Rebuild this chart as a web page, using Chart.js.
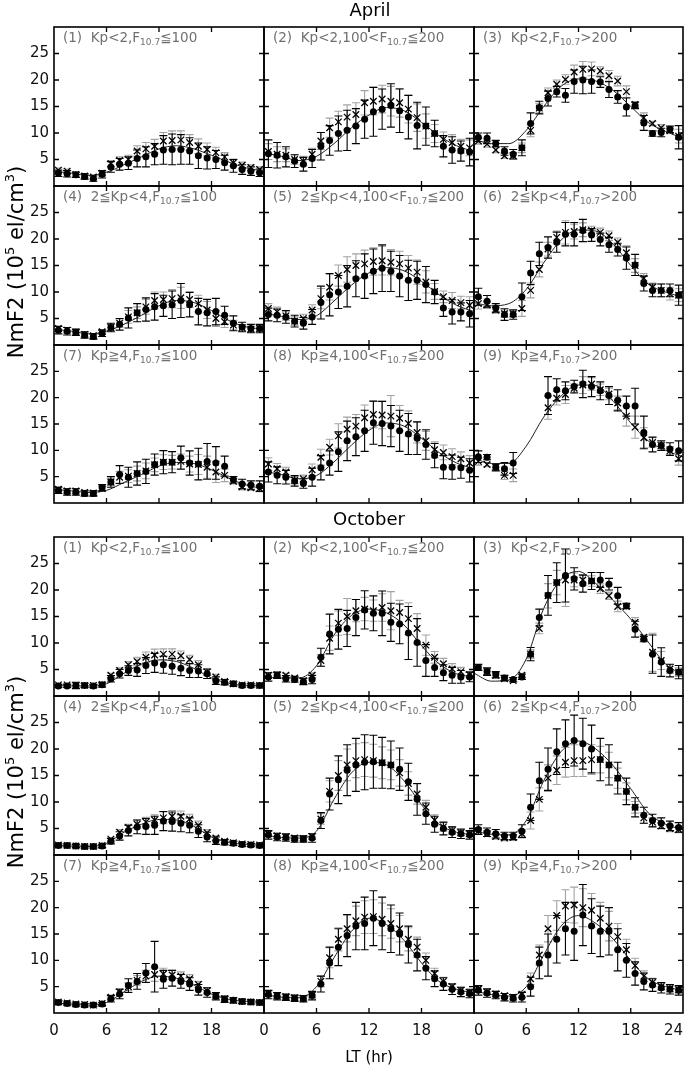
<!DOCTYPE html>
<html><head><meta charset="utf-8">
<script src="https://cdn.jsdelivr.net/npm/chart.js@4.4.1/dist/chart.umd.min.js"></script>
<style>
html,body{margin:0;padding:0;background:#fff;}
body{width:685px;height:1068px;overflow:hidden;position:relative;font-family:"DejaVu Sans",sans-serif;}
.pane{position:absolute;}
.lbl{position:absolute;font-size:13.5px;color:#707070;white-space:nowrap;line-height:14px;z-index:5;}
.lbl sub{font-size:9px;vertical-align:baseline;position:relative;top:3px;}
.title{position:absolute;font-size:18px;color:#000;transform:translateX(-50%);white-space:nowrap;line-height:20px;z-index:5;}
.ylab{position:absolute;font-size:21px;white-space:nowrap;line-height:22px;transform:translate(-50%,-50%) rotate(-90deg);z-index:5;}
.ylab sup{font-size:13px;vertical-align:baseline;position:relative;top:-9px;}
.xlab{position:absolute;font-size:15px;transform:translateX(-50%);white-space:nowrap;line-height:16px;z-index:5;}
</style></head><body>
<script>
// ---------- data ----------
const HOURS = [0.5,1.5,2.5,3.5,4.5,5.5,6.5,7.5,8.5,9.5,10.5,11.5,12.5,13.5,14.5,15.5,16.5,17.5,18.5,19.5,20.5,21.5,22.5,23.5];
const LINE_HOURS = [0,2,4,6,8,10,12,14,16,18,20,22,24];
const X_TICKS = [6,12,18];
const Y_TICKS = [5,10,15,20,25];
const MONTHS = ['April','October'];
const CONDITIONS = [
 'Kp&lt;2,F<sub>10.7</sub>≦100',
 'Kp&lt;2,100&lt;F<sub>10.7</sub>≦200',
 'Kp&lt;2,F<sub>10.7</sub>&gt;200',
 '2≦Kp&lt;4,F<sub>10.7</sub>≦100',
 '2≦Kp&lt;4,100&lt;F<sub>10.7</sub>≦200',
 '2≦Kp&lt;4,F<sub>10.7</sub>&gt;200',
 'Kp≧4,F<sub>10.7</sub>≦100',
 'Kp≧4,100&lt;F<sub>10.7</sub>≦200',
 'Kp≧4,F<sub>10.7</sub>&gt;200'
];

// April
const APR1_DOTS = [2.4,2.3,2.1,1.8,1.4,2.2,3.6,4.1,4.3,5.2,5.5,6.0,6.8,6.9,6.9,6.6,5.7,5.3,5.0,4.4,3.8,3.1,2.8,2.5];
const APR1_DERR = [0.6,0.6,0.5,0.5,0.5,0.7,1.0,1.1,1.2,1.6,1.9,2.0,2.7,2.9,2.8,2.5,2.4,2.1,1.7,1.4,1.2,0.9,0.8,0.7];
const APR1_CROSS = [3.0,2.8,2.2,1.9,1.7,2.4,4.2,4.8,5.0,6.6,7.0,7.5,8.5,8.6,8.7,8.2,7.5,6.9,6.3,5.5,4.4,3.9,3.5,3.1];
const APR1_CERR = [0.4,0.4,0.4,0.3,0.3,0.4,0.6,0.7,0.8,1.0,1.2,1.3,1.6,1.8,1.7,1.5,1.4,1.2,1.0,0.8,0.7,0.6,0.5,0.5];
const APR1_LINE = [2.8,2.4,2.0,2.6,4.0,5.5,7.0,7.6,7.0,5.8,4.5,3.4,2.8];

const APR2_DOTS = [6.1,5.8,5.5,4.7,4.1,5.2,7.5,8.6,9.9,10.5,11.3,12.6,14.0,14.5,15.2,14.2,13.0,11.4,11.3,9.9,7.5,6.8,6.6,6.4];
const APR2_DERR = [2.6,2.4,1.9,1.2,1.3,1.7,2.6,2.8,3.3,3.8,3.3,3.6,4.6,3.8,4.1,4.1,4.1,4.4,3.6,2.5,2.0,2.5,1.9,2.6];
const APR2_CROSS = [6.5,6.0,5.8,5.0,4.7,6.0,8.5,11.0,12.1,13.0,13.5,15.7,16.0,16.4,16.0,15.7,14.5,12.9,11.3,9.9,8.8,8.2,7.5,7.2];
const APR2_CERR = [1.5,1.4,1.2,0.9,0.9,1.1,1.6,1.8,2.0,2.3,2.2,2.3,2.6,2.6,2.8,2.7,2.6,2.6,2.3,1.7,1.4,1.5,1.3,1.5];
const APR2_LINE = [6.3,5.6,4.8,5.6,8.0,11.0,13.4,14.8,14.2,12.0,9.5,7.6,6.5];

const APR3_DOTS = [9.2,9.0,8.0,6.6,6.0,7.2,11.8,14.8,16.5,17.8,17.1,19.7,20.0,19.7,19.6,18.2,16.8,14.9,15.2,11.9,9.9,10.1,10.7,9.2];
const APR3_DERR = [0.8,1.0,0.6,0.8,0.9,1.5,2.0,1.2,1.4,1.0,1.3,2.2,2.6,2.2,1.0,1.5,1.2,1.7,0.6,1.4,0.5,0.8,0.6,2.2];
const APR3_CROSS = [8.5,7.9,6.8,5.7,5.7,7.2,10.5,14.7,17.6,19.2,20.1,21.5,22.0,22.1,21.7,20.8,19.8,17.8,15.4,12.9,11.8,11.0,10.4,9.4];
const APR3_CERR = [0.6,0.6,0.5,0.5,0.6,0.9,1.2,0.9,0.9,0.8,0.9,1.3,1.5,1.3,0.8,1.0,0.9,1.1,0.5,0.9,0.4,0.6,0.5,1.3];
const APR3_LINE = [8.8,8.0,8.0,10.5,15.0,18.8,20.2,19.8,18.0,15.0,12.0,10.3,9.0];

const APR4_DOTS = [2.8,2.6,2.4,1.9,1.6,2.2,3.3,3.9,5.1,6.1,6.7,7.2,7.4,7.6,8.4,7.6,6.3,6.1,6.3,5.6,4.1,3.4,3.1,3.1];
const APR4_DERR = [0.7,0.7,0.6,0.6,0.5,0.6,0.8,1.1,1.9,1.7,2.2,2.5,2.0,2.6,3.2,2.3,2.5,2.5,2.5,1.7,1.4,0.9,0.8,0.8];
const APR4_CROSS = [3.1,2.8,2.4,2.0,1.75,2.5,3.3,4.1,5.3,6.1,7.2,8.4,8.6,8.75,8.9,8.6,7.8,6.6,5.0,4.4,3.75,3.25,3.0,3.1];
const APR4_CERR = [0.5,0.5,0.4,0.4,0.4,0.4,0.6,0.8,1.2,1.1,1.4,1.6,1.4,1.7,2.0,1.5,1.6,1.6,1.5,1.1,0.9,0.6,0.5,0.5];
const APR4_LINE = [3.0,2.6,2.1,2.6,3.9,5.6,7.4,8.4,8.0,6.5,4.6,3.4,3.0];

const APR5_DOTS = [5.75,5.6,5.3,4.5,4.1,5.3,8.0,9.5,10.0,11.1,12.5,13.0,13.9,14.5,13.9,13.0,12.2,12.2,11.4,10.0,7.0,6.25,6.25,5.9];
const APR5_DERR = [1.2,1.2,1.2,1.1,1.1,1.4,3.1,4.0,3.1,3.9,3.4,4.2,4.2,4.4,3.8,3.9,3.8,3.6,3.4,2.2,1.6,2.3,1.7,2.5];
const APR5_CROSS = [6.9,6.25,5.5,4.5,5.0,6.6,8.75,10.9,13.1,14.25,15.0,15.3,15.75,15.9,15.6,15.3,14.5,13.75,11.9,10.1,9.1,8.4,8.0,7.5];
const APR5_CERR = [0.9,0.9,0.8,0.8,0.8,1.0,1.9,2.4,2.0,2.4,2.2,2.6,2.6,2.7,2.4,2.4,2.4,2.3,2.1,1.5,1.1,1.5,1.2,1.6];
const APR5_LINE = [6.0,5.4,4.8,5.5,8.3,11.3,13.6,14.6,14.0,12.0,9.5,7.5,6.3];

const APR6_DOTS = [9.1,8.25,7.0,5.75,5.75,9.1,13.6,17.2,18.4,19.4,20.9,20.9,21.6,20.75,19.9,18.9,18.0,16.4,15.1,11.6,10.3,10.3,10.3,9.4];
const APR6_DERR = [1.6,1.1,0.8,1.1,0.9,2.6,2.2,2.2,2.0,1.9,2.2,2.2,2.1,1.2,1.2,1.4,1.2,2.1,2.0,1.4,1.2,1.2,1.2,1.9];
const APR6_CROSS = [7.8,7.6,6.6,5.9,5.9,6.9,10.3,14.25,18.1,20.3,21.25,21.4,21.75,21.6,21.25,20.6,19.4,17.4,15.0,12.6,10.9,10.3,9.7,9.4];
const APR6_CERR = [1.0,0.7,0.6,0.7,0.6,1.5,1.4,1.4,1.3,1.2,2.2,1.4,1.3,0.8,0.8,0.9,0.8,1.3,1.3,0.9,0.8,1.2,1.2,1.2];
const APR6_LINE = [8.0,7.4,7.8,10.5,15.5,19.8,21.7,21.5,19.0,15.0,11.5,10.0,9.0];

const APR7_DOTS = [2.4,2.1,2.1,1.8,1.8,2.9,4.0,5.4,4.9,5.6,6.0,7.3,7.75,7.75,8.6,7.6,7.4,7.9,7.6,7.0,4.4,3.6,3.4,3.2];
const APR7_DERR = [0.6,0.6,0.6,0.5,0.5,0.6,1.0,1.7,1.9,2.2,2.3,2.0,2.2,2.0,2.2,2.3,3.0,3.4,3.1,1.9,0.6,0.9,0.8,1.0];
const APR7_CROSS = [2.6,2.3,2.3,2.0,1.9,2.75,4.0,4.9,5.1,5.6,6.1,7.25,7.75,7.75,7.9,7.4,7.3,6.8,5.9,5.25,4.1,3.1,2.9,2.75];
const APR7_CERR = [0.4,0.4,0.4,0.4,0.4,0.4,0.7,1.1,1.2,1.4,1.5,1.3,1.4,1.3,1.4,1.5,1.9,2.1,2.0,1.2,0.5,0.6,0.5,0.6];
const APR7_LINE = [2.6,2.3,2.0,2.4,3.9,5.4,7.0,7.7,7.5,6.3,4.7,3.4,2.7];

const APR8_DOTS = [5.9,5.25,4.9,4.2,3.7,4.9,6.7,7.6,9.75,11.8,12.6,13.7,15.25,15.1,14.6,13.7,13.1,12.3,11.1,9.0,6.8,6.8,6.7,6.2];
const APR8_DERR = [1.9,1.6,1.3,1.0,0.9,1.7,2.3,2.3,3.75,3.75,3.6,3.9,4.1,4.2,3.9,3.9,3.9,3.1,2.8,2.3,2.2,2.3,2.0,2.2];
const APR8_CROSS = [7.4,6.5,5.9,4.3,4.6,6.3,8.7,10.6,12.75,14.0,14.6,16.2,16.8,16.7,16.5,16.1,15.1,13.4,11.8,10.1,9.6,8.8,8.4,7.6];
const APR8_CERR = [1.2,1.0,0.9,0.7,0.7,1.1,1.5,1.5,2.3,2.3,2.2,2.4,2.5,2.6,3.9,2.4,2.4,2.0,1.8,1.5,1.4,1.5,1.3,1.4];
const APR8_LINE = [6.0,5.4,4.6,5.2,7.8,11.0,13.8,15.2,14.6,12.3,9.6,7.6,6.5];

const APR9_DOTS = [8.8,8.7,6.8,6.5,7.6,null,null,null,20.4,21.5,21.3,22.1,22.6,22.1,21.3,20.4,19.5,18.4,18.4,13.4,11.1,10.9,10.25,9.9];
const APR9_DERR = [1.1,0.5,0.7,1.2,2.0,0,0,0,3.6,2.1,1.7,1.2,2.6,1.9,1.7,1.7,2.0,1.9,3.4,3.1,1.4,0.9,1.2,1.9];
const APR9_CROSS = [7.9,7.3,6.8,5.25,5.25,null,null,null,18.1,19.9,20.6,21.8,22.4,22.6,21.5,20.7,19.0,16.5,14.4,12.4,11.5,10.9,9.9,8.4];
const APR9_CERR = [0.7,0.4,0.5,0.8,1.2,0,0,0,2.2,1.3,1.7,0.8,1.6,1.2,1.1,1.1,1.3,1.9,2.1,1.9,0.9,0.6,0.8,1.2];
const APR9_LINE = [8.5,7.5,7.5,10.8,16.3,20.3,22.4,22.3,19.3,15.2,11.8,10.0,8.8];

// October
const OCT1_DOTS = [1.9,1.9,2.0,2.0,1.9,2.1,3.25,4.2,4.8,4.9,5.75,6.25,5.9,5.6,5.25,4.8,4.7,4.2,2.9,2.6,2.3,2.0,2.0,2.0];
const OCT1_DERR = [0.3,0.3,0.6,0.4,0.3,0.4,0.6,0.8,0.9,1.2,1.5,1.8,1.6,1.5,1.4,1.3,1.2,0.9,0.7,0.5,0.4,0.3,0.3,0.3];
const OCT1_CROSS = [2.1,2.1,2.0,2.0,2.0,2.2,3.9,4.8,5.9,6.5,7.3,7.75,7.9,7.9,7.6,6.9,5.9,4.5,3.6,2.75,2.3,2.1,2.1,2.0];
const OCT1_CERR = [0.2,0.2,0.4,0.3,0.2,0.3,0.4,0.5,0.6,0.8,1.0,1.1,1.0,1.0,0.9,0.8,0.8,0.6,0.5,0.3,0.3,0.2,0.2,0.2];
const OCT1_LINE = [2.0,1.9,1.9,2.3,4.3,6.0,6.8,6.5,5.2,3.4,2.4,2.0,2.0];

const OCT2_DOTS = [3.6,3.9,3.25,3.1,2.75,3.1,7.3,11.7,12.6,12.75,14.8,16.25,15.6,15.6,13.9,13.6,11.9,10.1,6.7,5.4,4.4,3.9,3.6,3.6];
const OCT2_DERR = [0.8,0.6,0.6,0.5,0.6,0.8,1.7,3.75,3.75,3.4,3.4,3.6,3.3,4.2,3.6,3.75,5.0,4.5,3.0,1.7,1.5,1.5,1.2,0.9];
const OCT2_CROSS = [3.9,4.0,3.9,3.4,2.9,3.9,6.7,10.9,13.75,15.0,16.1,16.4,16.1,16.7,16.1,15.75,14.6,12.75,9.6,7.3,6.1,5.1,4.6,4.0];
const OCT2_CERR = [0.5,0.4,0.4,0.4,0.4,0.5,1.1,2.3,2.3,3.4,2.1,2.2,2.0,2.6,3.6,2.3,3.0,2.8,1.9,1.1,1.0,1.0,0.8,0.6];
const OCT2_LINE = [3.6,3.4,3.4,5.7,11.5,15.2,16.4,15.7,13.4,9.5,6.1,4.2,3.6];

const OCT3_DOTS = [5.4,4.6,4.0,3.4,3.1,3.6,7.9,14.8,19.0,21.4,22.75,22.1,21.2,21.7,21.9,21.1,18.9,17.0,12.6,10.75,7.9,6.4,4.8,4.5];
const OCT3_DERR = [0.6,0.7,0.6,0.5,0.4,0.5,1.25,1.6,3.75,3.75,5.0,2.1,1.6,1.6,1.4,1.1,1.6,0.5,1.5,0.5,3.6,2.7,1.2,1.25];
const OCT3_CROSS = [5.4,4.6,3.9,3.25,2.9,3.9,7.9,12.75,18.9,21.4,21.9,21.9,21.9,21.7,20.25,18.9,16.9,16.9,13.9,11.1,8.25,6.7,5.1,4.5];
const OCT3_CERR = [0.4,0.5,0.4,0.3,0.3,0.4,0.8,1.0,2.3,2.3,5.0,1.3,1.0,1.0,0.9,0.7,1.0,0.4,0.9,0.4,3.6,1.7,0.8,0.8];
const OCT3_LINE = [4.3,2.8,3.0,7.0,16.5,22.0,23.5,21.2,18.0,14.5,10.2,6.0,4.0];

const OCT4_DOTS = [1.8,1.8,1.7,1.6,1.6,1.7,2.6,3.6,4.6,5.3,5.4,5.6,6.4,6.3,6.0,5.6,4.5,3.4,2.7,2.4,2.2,2.0,1.9,1.8];
const OCT4_DERR = [0.3,0.3,0.3,0.3,0.3,0.3,0.5,0.8,1.0,1.3,1.5,1.7,1.8,1.8,1.6,1.4,1.2,0.9,0.7,0.5,0.4,0.4,0.3,0.3];
const OCT4_CROSS = [1.9,1.8,1.7,1.6,1.6,1.8,3.0,4.3,5.2,5.8,6.2,6.6,7.0,7.3,7.3,6.8,5.6,4.2,3.2,2.6,2.3,2.1,2.0,1.9];
const OCT4_CERR = [0.2,0.2,0.2,0.2,0.2,0.2,0.3,0.5,0.6,0.8,0.9,1.0,1.1,1.1,1.0,0.9,0.8,0.6,0.4,0.3,0.3,0.3,0.2,0.2];
const OCT4_LINE = [1.8,1.7,1.6,2.2,4.3,5.8,6.7,6.6,5.4,3.4,2.4,2.0,1.8];

const OCT5_DOTS = [3.8,3.4,3.3,3.0,3.0,3.2,6.5,11.5,14.2,16.0,17.0,17.5,17.6,17.4,17.0,16.2,13.8,10.5,7.8,5.8,5.0,4.3,4.0,3.8];
const OCT5_DERR = [0.8,0.7,0.7,0.6,0.6,0.8,1.5,3.0,4.5,4.8,5.0,5.2,5.0,4.8,4.5,4.0,3.5,3.0,2.0,1.5,1.2,1.0,0.9,0.8];
const OCT5_CROSS = [4.0,3.6,3.4,3.2,3.1,3.5,6.8,12.0,15.0,17.0,17.8,18.0,17.8,17.4,17.0,15.5,13.5,11.5,9.0,6.6,5.3,4.6,4.2,4.0];
const OCT5_CERR = [0.5,0.5,0.5,0.4,0.4,0.5,1.0,2.0,2.8,3.0,3.2,3.2,3.1,3.0,2.8,2.5,2.2,1.9,1.3,1.0,0.8,0.7,0.6,0.5];
const OCT5_LINE = [3.8,3.3,3.2,4.5,10.5,15.5,17.5,17.0,14.0,9.5,5.8,4.3,3.8];

const OCT6_DOTS = [4.8,4.3,4.0,3.6,3.6,4.5,9.0,14.0,16.2,19.5,21.0,21.6,21.0,20.0,18.0,17.0,14.5,12.0,9.0,7.5,6.5,6.0,5.5,5.2];
const OCT6_DERR = [0.9,0.8,0.8,0.7,0.7,1.2,2.5,3.5,4.0,4.3,4.5,4.8,4.8,4.5,4.0,3.8,3.0,2.5,1.8,1.5,1.2,1.0,0.9,0.9];
const OCT6_CROSS = [4.5,4.0,3.5,3.2,3.3,4.0,6.5,10.5,14.5,16.0,17.5,17.8,17.8,18.0,18.0,17.0,14.5,12.0,9.0,7.0,6.2,5.5,5.0,4.8];
const OCT6_CERR = [0.6,0.5,0.5,0.5,0.5,0.8,1.6,2.2,2.5,2.7,2.8,3.0,3.0,2.8,2.5,2.4,1.9,1.6,1.1,1.0,0.8,0.6,0.6,0.6];
const OCT6_LINE = [4.6,3.9,3.8,6.5,14.0,19.5,21.5,20.0,16.8,12.5,8.0,5.8,4.8];

const OCT7_DOTS = [2.0,1.8,1.6,1.5,1.5,1.7,2.7,3.6,5.2,6.0,7.6,8.8,6.4,6.6,6.0,5.5,4.4,3.9,3.2,2.6,2.4,2.2,2.1,2.0];
const OCT7_DERR = [0.3,0.3,0.3,0.3,0.3,0.3,0.6,0.9,1.3,1.5,1.8,4.8,1.7,1.5,1.3,1.2,1.0,0.9,0.7,0.6,0.5,0.4,0.4,0.3];
const OCT7_CROSS = [2.1,1.9,1.7,1.6,1.5,1.8,3.0,4.0,5.0,6.2,7.0,7.3,7.4,7.2,7.0,6.5,5.4,4.2,3.3,2.7,2.4,2.2,2.1,2.0];
const OCT7_CERR = [0.2,0.2,0.2,0.2,0.2,0.2,0.4,0.6,0.8,0.9,1.1,1.3,1.1,0.9,0.8,0.8,0.6,0.6,0.4,0.4,0.3,0.3,0.3,0.2];
const OCT7_LINE = [1.9,1.7,1.5,2.0,4.0,6.0,7.0,6.6,5.3,3.6,2.6,2.2,2.0];

const OCT8_DOTS = [3.5,3.2,3.0,2.8,2.7,3.3,5.5,9.5,12.5,14.7,16.5,17.0,18.0,17.0,16.0,15.0,13.0,11.0,8.5,6.5,5.5,4.5,4.0,3.7];
const OCT8_DERR = [0.8,0.7,0.6,0.6,0.6,0.8,1.5,3.0,3.5,4.0,4.5,5.0,5.2,5.0,4.5,4.0,3.5,3.0,2.2,1.5,1.2,1.0,0.9,0.8];
const OCT8_CROSS = [3.7,3.3,3.1,2.9,2.8,3.4,6.0,10.5,14.0,16.0,17.5,18.2,18.3,17.8,17.0,16.0,14.0,12.5,10.0,7.5,6.0,5.0,4.3,3.9];
const OCT8_CERR = [0.5,0.4,0.4,0.4,0.4,0.5,1.0,1.9,2.2,2.5,2.8,3.1,3.2,3.1,2.8,2.5,2.2,1.9,1.4,1.0,0.8,0.6,0.6,0.5];
const OCT8_LINE = [3.6,3.0,2.9,5.0,10.5,15.5,18.0,16.8,13.8,9.5,6.0,4.5,3.8];

const OCT9_DOTS = [4.3,3.8,3.4,3.0,2.8,3.0,5.0,9.5,11.0,14.0,16.0,15.5,18.6,16.5,15.5,15.5,12.0,10.0,7.5,6.0,5.3,4.8,4.5,4.3];
const OCT9_DERR = [0.9,0.8,0.7,0.7,0.7,0.9,1.8,3.0,4.0,4.5,5.0,5.5,5.8,5.2,4.8,4.5,4.0,3.2,2.2,1.6,1.2,1.0,0.9,0.9];
const OCT9_CROSS = [4.5,4.0,3.6,3.3,3.0,3.5,6.5,11.0,16.0,18.5,20.3,20.5,20.0,19.5,18.0,16.5,14.5,12.0,9.0,7.0,5.8,5.0,4.6,4.4];
const OCT9_CERR = [0.6,0.5,0.5,0.4,0.4,0.6,1.1,1.9,2.5,2.8,3.1,3.4,3.6,3.2,3.0,2.8,2.5,2.0,1.4,1.0,0.8,0.6,0.6,0.6];
const OCT9_LINE = [4.2,3.5,3.2,5.0,11.0,16.5,18.5,17.0,14.0,10.0,6.5,5.0,4.3];

const SERIES = [
 [APR1_DOTS,APR1_DERR,APR1_CROSS,APR1_CERR,APR1_LINE],
 [APR2_DOTS,APR2_DERR,APR2_CROSS,APR2_CERR,APR2_LINE],
 [APR3_DOTS,APR3_DERR,APR3_CROSS,APR3_CERR,APR3_LINE],
 [APR4_DOTS,APR4_DERR,APR4_CROSS,APR4_CERR,APR4_LINE],
 [APR5_DOTS,APR5_DERR,APR5_CROSS,APR5_CERR,APR5_LINE],
 [APR6_DOTS,APR6_DERR,APR6_CROSS,APR6_CERR,APR6_LINE],
 [APR7_DOTS,APR7_DERR,APR7_CROSS,APR7_CERR,APR7_LINE],
 [APR8_DOTS,APR8_DERR,APR8_CROSS,APR8_CERR,APR8_LINE],
 [APR9_DOTS,APR9_DERR,APR9_CROSS,APR9_CERR,APR9_LINE],
 [OCT1_DOTS,OCT1_DERR,OCT1_CROSS,OCT1_CERR,OCT1_LINE],
 [OCT2_DOTS,OCT2_DERR,OCT2_CROSS,OCT2_CERR,OCT2_LINE],
 [OCT3_DOTS,OCT3_DERR,OCT3_CROSS,OCT3_CERR,OCT3_LINE],
 [OCT4_DOTS,OCT4_DERR,OCT4_CROSS,OCT4_CERR,OCT4_LINE],
 [OCT5_DOTS,OCT5_DERR,OCT5_CROSS,OCT5_CERR,OCT5_LINE],
 [OCT6_DOTS,OCT6_DERR,OCT6_CROSS,OCT6_CERR,OCT6_LINE],
 [OCT7_DOTS,OCT7_DERR,OCT7_CROSS,OCT7_CERR,OCT7_LINE],
 [OCT8_DOTS,OCT8_DERR,OCT8_CROSS,OCT8_CERR,OCT8_LINE],
 [OCT9_DOTS,OCT9_DERR,OCT9_CROSS,OCT9_CERR,OCT9_LINE]
];

// ---------- layout ----------
const COL_L = [54, 264, 474];
const COL_W = [210, 210, 209];
const GROUP_T = [27, 537];
const ROW_OFF = [0, 159, 318];
const ROW_H = [159, 159, 158];
const FONT = '"DejaVu Sans", sans-serif';

const errorBars = {
  id: 'errorBars',
  beforeDatasetsDraw(chart) {
    const {ctx, scales: {x, y}} = chart;
    ctx.save();
    chart.data.datasets.forEach(ds => {
      if (!ds.errs) return;
      ctx.strokeStyle = ds.errColor;
      ctx.lineWidth = 1.1;
      ctx.beginPath();
      ds.data.forEach((pt, i) => {
        const e = ds.errs[i];
        if (pt.y == null || !e) return;
        const px = x.getPixelForValue(pt.x);
        const y1 = y.getPixelForValue(pt.y - e);
        const y2 = y.getPixelForValue(pt.y + e);
        ctx.moveTo(px, y1); ctx.lineTo(px, y2);
        ctx.moveTo(px - 4, y1); ctx.lineTo(px + 4, y1);
        ctx.moveTo(px - 4, y2); ctx.lineTo(px + 4, y2);
      });
      ctx.stroke();
    });
    ctx.restore();
  }
};

const frame = {
  id: 'frame',
  afterDraw(chart) {
    const {ctx, chartArea: a, scales: {x, y}} = chart;
    ctx.save();
    ctx.strokeStyle = '#000';
    ctx.lineWidth = 1.6;
    ctx.strokeRect(a.left, a.top, a.right - a.left, a.bottom - a.top);
    ctx.lineWidth = 1.3;
    ctx.beginPath();
    X_TICKS.forEach(v => {
      const px = x.getPixelForValue(v);
      ctx.moveTo(px, a.top); ctx.lineTo(px, a.top + 5);
      ctx.moveTo(px, a.bottom); ctx.lineTo(px, a.bottom - 5);
    });
    Y_TICKS.forEach(v => {
      const py = y.getPixelForValue(v);
      ctx.moveTo(a.left, py); ctx.lineTo(a.left + 5, py);
      ctx.moveTo(a.right, py); ctx.lineTo(a.right - 5, py);
    });
    ctx.stroke();
    ctx.restore();
  }
};

function addDiv(cls, html, style) {
  const d = document.createElement('div');
  d.className = cls; d.innerHTML = html;
  Object.assign(d.style, style);
  document.body.appendChild(d);
  return d;
}

SERIES.forEach((s, k) => {
  const group = Math.floor(k / 9), idx = k % 9, row = Math.floor(idx / 3), col = idx % 3;
  const [dots, derr, cross, cerr, line] = s;
  const L = COL_L[col], W = COL_W[col], T = GROUP_T[group] + ROW_OFF[row], H = ROW_H[row];
  const isLeft = col === 0, isBottom = group === 1 && row === 2;
  const YW = 46, XH = 34, P = 20;
  const padL = isLeft ? YW : P, padB = isBottom ? XH : P;
  const wrap = document.createElement('div');
  wrap.className = 'pane';
  Object.assign(wrap.style, {left: (L - padL) + 'px', top: (T - P) + 'px', width: (W + padL + P) + 'px', height: (H + P + padB) + 'px'});
  const cv = document.createElement('canvas');
  wrap.appendChild(cv);
  document.body.appendChild(wrap);

  new Chart(cv, {
    type: 'scatter',
    data: {
      datasets: [
        {data: HOURS.map((h, i) => ({x: h, y: cross[i]})), errs: cerr, errColor: '#a3a3a3',
         pointStyle: 'crossRot', pointRadius: 4.6, borderColor: '#000', backgroundColor: '#000', borderWidth: 1.3, showLine: false},
        {data: HOURS.map((h, i) => ({x: h, y: dots[i]})), errs: derr, errColor: '#000',
         pointStyle: 'circle', pointRadius: 3.5, borderColor: '#000', backgroundColor: '#000', borderWidth: 0, showLine: false},
        {data: LINE_HOURS.map((h, i) => ({x: h, y: line[i]})), showLine: true, pointRadius: 0,
         borderColor: '#222', borderWidth: 1, cubicInterpolationMode: 'monotone'}
      ]
    },
    options: {
      responsive: true, maintainAspectRatio: false, animation: false,
      layout: {padding: {left: isLeft ? 0 : P, right: P, top: P, bottom: isBottom ? 0 : P}},
      plugins: {legend: {display: false}, tooltip: {enabled: false}},
      scales: {
        x: {type: 'linear', min: 0, max: 24, display: isBottom,
            afterFit: sc => { if (isBottom) sc.height = XH; },
            grid: {display: false, drawTicks: false}, border: {display: false},
            ticks: {stepSize: 6, padding: 9, autoSkip: false, maxRotation: 0, color: '#111',
                    align: col === 2 ? 'inner' : 'center',
                    font: {family: FONT, size: 15},
                    callback: v => (v === 24 && col < 2) ? '' : String(v)}},
        y: {type: 'linear', min: 0, max: 30, display: isLeft,
            afterFit: sc => { if (isLeft) sc.width = YW; },
            grid: {display: false, drawTicks: false}, border: {display: false},
            ticks: {stepSize: 5, padding: 5, autoSkip: false, color: '#111', font: {family: FONT, size: 15},
                    callback: v => (v === 0 || v === 30) ? '' : String(v)}}
      }
    },
    plugins: [errorBars, frame]
  });

  addDiv('lbl', '(' + (idx + 1) + ')&nbsp; ' + CONDITIONS[idx], {left: (L + 9) + 'px', top: (T + 3) + 'px'});
});

addDiv('title', MONTHS[0], {left: '370px', top: '0px'});
addDiv('title', MONTHS[1], {left: '369px', top: '509px'});
addDiv('ylab', 'NmF2 (10<sup>5</sup> el/cm<sup>3</sup>)', {left: '17px', top: '262px'});
addDiv('ylab', 'NmF2 (10<sup>5</sup> el/cm<sup>3</sup>)', {left: '17px', top: '772px'});
addDiv('xlab', 'LT (hr)', {left: '369px', top: '1049px'});
</script>
</body></html>
